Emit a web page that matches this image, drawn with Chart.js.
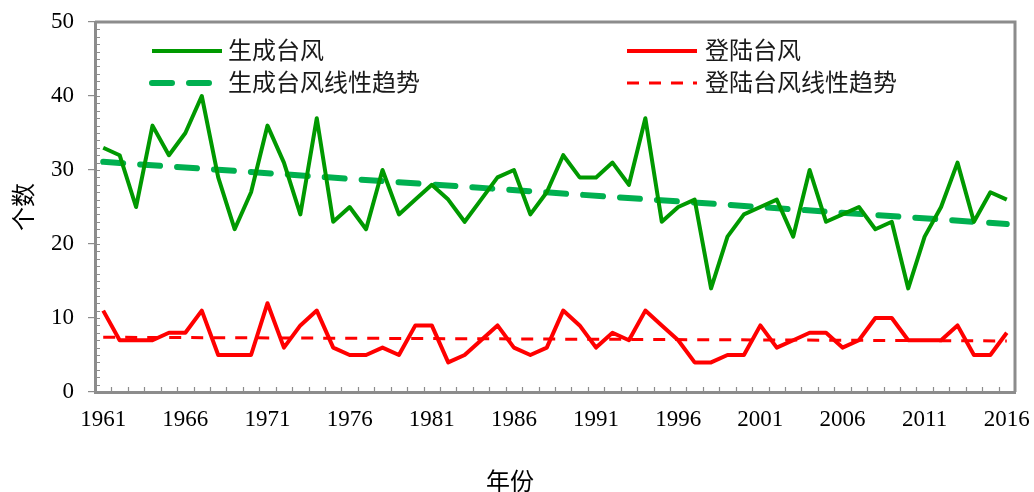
<!DOCTYPE html>
<html>
<head>
<meta charset="utf-8">
<script src="https://cdn.jsdelivr.net/npm/chart.js@4.4.1/dist/chart.umd.min.js"></script>
<style>
  html, body { margin: 0; padding: 0; background: #fff; }
  #wrap { width: 1034px; height: 492px; position: relative; }
</style>
</head>
<body>
<div id="wrap"><canvas id="typhoon-chart" width="1034" height="492"></canvas></div>
<script>
// values
const years = ['1961','1962','1963','1964','1965','1966','1967','1968','1969','1970',
    '1971','1972','1973','1974','1975','1976','1977','1978','1979','1980',
    '1981','1982','1983','1984','1985','1986','1987','1988','1989','1990',
    '1991','1992','1993','1994','1995','1996','1997','1998','1999','2000',
    '2001','2002','2003','2004','2005','2006','2007','2008','2009','2010',
    '2011','2012','2013','2014','2015','2016'];
const formedTyphoons = [33, 32, 25, 36, 32, 35, 40, 29, 22, 27,
    36, 31, 24, 37, 23, 25, 22, 30, 24, 26,
    28, 26, 23, 26, 29, 30, 24, 27, 32, 29,
    29, 31, 28, 37, 23, 25, 26, 14, 21, 24,
    25, 26, 21, 30, 23, 24, 25, 22, 23, 14,
    21, 25, 31, 23, 27, 26];
const landedTyphoons = [11, 7, 7, 7, 8, 8, 11, 5, 5, 5,
    12, 6, 9, 11, 6, 5, 5, 6, 5, 9,
    9, 4, 5, 7, 9, 6, 5, 6, 11, 9,
    6, 8, 7, 11, 9, 7, 4, 4, 5, 5,
    9, 6, 7, 8, 8, 6, 7, 10, 10, 7,
    7, 7, 9, 5, 5, 8];
const trendYears = ['1961', '2016'];
const formedTrend = [31.1, 22.7];
const landedTrend = [7.4, 6.9];
const xTickLabels = ['1961','1966','1971','1976','1981','1986','1991','1996','2001','2006','2011','2016'];
const yTicks = [0, 10, 20, 30, 40, 50];

const seriesNames = ['生成台风', '登陆台风', '生成台风线性趋势', '登陆台风线性趋势'];

const AXIS_GRAY = '#8c8c8c';
const SERIF = '"Liberation Serif", "Times New Roman", serif';
const CJK = '"Noto Sans CJK SC", "Noto Sans", sans-serif';

const frameAndLegend = {
    id: 'frameAndLegend',
    afterDraw(chart) {
        const ctx = chart.ctx;
        const area = chart.chartArea;
        const x = chart.scales.x;
        const y = chart.scales.y;
        ctx.save();

        // top and right frame
        ctx.strokeStyle = AXIS_GRAY;
        ctx.lineWidth = 3;
        ctx.beginPath();
        ctx.moveTo(area.left, area.top);
        ctx.lineTo(area.right, area.top);
        ctx.lineTo(area.right, area.bottom);
        ctx.stroke();

        // minor ticks, inside
        ctx.lineWidth = 1.2;
        ctx.beginPath();
        for (let v = 0; v <= 50; v++) {
            const py = Math.round(y.getPixelForValue(v)) + 0.5;
            ctx.moveTo(area.left, py);
            ctx.lineTo(area.left + 5, py);
        }
        const half = (x.getPixelForValue(1) - x.getPixelForValue(0)) / 2;
        for (let i = 0; i < years.length - 1; i++) {
            const px = Math.round(x.getPixelForValue(i) + half) + 0.5;
            ctx.moveTo(px, area.bottom);
            ctx.lineTo(px, area.bottom - 5);
        }
        ctx.stroke();

        // legend inside the plot
        const rows = [
            { ds: 0, x: 152, y: 51, len: 70, tx: 228 },
            { ds: 1, x: 627, y: 51, len: 70, tx: 705 },
            { ds: 2, x: 152, y: 83, len: 58, tx: 228 },
            { ds: 3, x: 627, y: 83, len: 70, tx: 705 }
        ];
        rows.forEach(r => {
            const d = chart.data.datasets[r.ds];
            ctx.strokeStyle = d.borderColor;
            ctx.lineWidth = d.borderWidth;
            ctx.lineCap = d.borderCapStyle || 'butt';
            ctx.setLineDash(d.borderDash || []);
            ctx.beginPath();
            ctx.moveTo(r.x, r.y);
            ctx.lineTo(r.x + r.len, r.y);
            ctx.stroke();
            ctx.setLineDash([]);
            ctx.fillStyle = '#1a1a1a';
            ctx.font = '24px ' + CJK;
            ctx.textBaseline = 'middle';
            ctx.textAlign = 'left';
            ctx.fillText(d.label, r.tx, r.y - 1);
        });

        // x axis title
        ctx.fillStyle = '#000';
        ctx.font = '24px ' + CJK;
        ctx.textAlign = 'center';
        ctx.textBaseline = 'middle';
        ctx.fillText('年份', 510, 481);
        ctx.restore();
    }
};

new Chart(document.getElementById('typhoon-chart'), {
    type: 'line',
    data: {
        labels: years,
        datasets: [{
            label: seriesNames[0],
            data: formedTyphoons,
            borderColor: '#009900',
            borderWidth: 4,
            borderJoinStyle: 'round',
            pointRadius: 0,
            order: 2
        }, {
            label: seriesNames[1],
            data: landedTyphoons,
            borderColor: '#ff0000',
            borderWidth: 4,
            borderJoinStyle: 'round',
            pointRadius: 0,
            order: 1
        }, {
            label: seriesNames[2],
            data: trendYears.map((yr, i) => ({ x: yr, y: formedTrend[i] })),
            borderColor: '#00b050',
            borderWidth: 6,
            borderDash: [20, 17],
            borderCapStyle: 'round',
            pointRadius: 0,
            order: 3
        }, {
            label: seriesNames[3],
            data: trendYears.map((yr, i) => ({ x: yr, y: landedTrend[i] })),
            borderColor: '#ff0000',
            borderWidth: 3,
            borderDash: [12, 10],
            pointRadius: 0,
            order: 0
        }]
    },
    options: {
        responsive: false,
        devicePixelRatio: 1,
        animation: false,
        layout: { padding: { left: 0, top: 22, right: 19, bottom: 0 } },
        plugins: {
            legend: { display: false },
            tooltip: { enabled: false }
        },
        scales: {
            x: {
                type: 'category',
                offset: true,
                afterFit: scale => {
                    scale.height = 100;
                    scale.paddingLeft = 0;
                    scale.paddingRight = 0;
                },
                grid: { display: true, drawOnChartArea: false, drawTicks: false, tickLength: 0 },
                border: { display: true, color: AXIS_GRAY, width: 3 },
                ticks: {
                    autoSkip: false,
                    maxRotation: 0,
                    padding: 14,
                    color: '#000',
                    font: { family: SERIF, size: 23 },
                    callback: function(value) {
                        const lbl = this.getLabelForValue(value);
                        return xTickLabels.includes(lbl) ? lbl : '';
                    }
                }
            },
            y: {
                min: 0,
                max: 50,
                afterFit: scale => {
                    scale.width = 95;
                    scale.paddingTop = 0;
                    scale.paddingBottom = 0;
                },
                afterBuildTicks: scale => { scale.ticks = yTicks.map(v => ({ value: v })); },
                grid: { drawOnChartArea: false, drawTicks: true, tickLength: 7, color: AXIS_GRAY, lineWidth: 1.2 },
                border: { display: true, color: AXIS_GRAY, width: 3 },
                ticks: {
                    padding: 14,
                    color: '#000',
                    font: { family: SERIF, size: 23 }
                },
                title: {
                    display: true,
                    text: '个数',
                    color: '#000',
                    font: { family: CJK, size: 24 },
                    padding: { top: 8, bottom: 0 }
                }
            }
        }
    },
    plugins: [frameAndLegend]
});
</script>
</body>
</html>
